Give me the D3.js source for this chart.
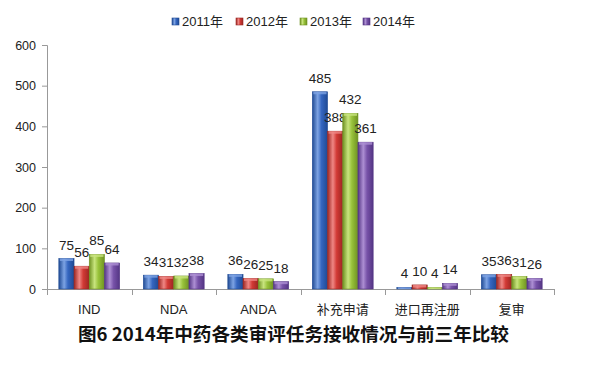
<!DOCTYPE html>
<html><head><meta charset="utf-8">
<script src="https://cdn.jsdelivr.net/npm/d3@7"></script>
<style>body{margin:0;background:#fff}svg{display:block}</style>
</head><body>
<svg id="c" width="603" height="369"></svg>
<script>
const categories = ["IND","NDA","ANDA","补充申请","进口再注册","复审"];
const seriesNames = ["2011年","2012年","2013年","2014年"];
const v2011 = [75,34,36,485,4,35];
const v2012 = [56,31,26,388,10,36];
const v2013 = [85,32,25,432,4,31];
const v2014 = [64,38,18,361,14,26];
const yTicks = [0,100,200,300,400,500,600];
const title = "图6  2014年中药各类审评任务接收情况与前三年比较";

const colors = ["#3566c0","#d23a35","#98c23a","#7752a8"];
const dark = ["#1f4a94","#9c2622","#6f9222","#543584"];
const light = ["#7da3e3","#ef8784","#c8e47e","#ad8fd3"];
const series = [v2011,v2012,v2013,v2014];

const svg = d3.select("#c");
const font = "'Liberation Sans', Arial, 'Noto Sans CJK SC', sans-serif";
const defs = svg.append("defs");
colors.forEach((c,i)=>{
  const g = defs.append("linearGradient").attr("id","g"+i).attr("x1","0").attr("x2","1").attr("y1","0").attr("y2","0");
  g.append("stop").attr("offset","0%").attr("stop-color",dark[i]);
  g.append("stop").attr("offset","35%").attr("stop-color",light[i]);
  g.append("stop").attr("offset","60%").attr("stop-color",c);
  g.append("stop").attr("offset","100%").attr("stop-color",dark[i]);
});

const x0 = d3.scaleBand().domain(categories).range([47,554]).paddingInner(0.28).paddingOuter(0.14);
const x1 = d3.scaleBand().domain(d3.range(4)).range([0,x0.bandwidth()]);
const y = d3.scaleLinear().domain([0,600]).range([289,45]);

// y axis
const ya = svg.append("g").attr("transform","translate(47,0)")
  .call(d3.axisLeft(y).tickValues(yTicks).tickSize(5).tickPadding(6));
ya.select(".domain").attr("stroke","#999");
ya.selectAll(".tick line").attr("stroke","#999");
ya.selectAll("text").attr("font-family",font).attr("font-size",12.5).attr("fill","#222");

// x axis
const xs = d3.scaleLinear().domain([0,6]).range([47,554]);
svg.append("line").attr("x1",47).attr("x2",554).attr("y1",289.5).attr("y2",289.5).attr("stroke","#999");
svg.selectAll(".xt").data(d3.range(7)).enter().append("line")
  .attr("x1",d=>Math.round(xs(d))+0.5).attr("x2",d=>Math.round(xs(d))+0.5)
  .attr("y1",289).attr("y2",295).attr("stroke","#999");
svg.selectAll(".xl").data(categories).enter().append("text")
  .attr("x",d=>x0(d)+x0.bandwidth()/2).attr("y",314)
  .attr("text-anchor","middle").attr("font-family",font).attr("font-size",13).attr("fill","#222")
  .text(d=>d);

// bars
series.forEach((vals,i)=>{
  const g = svg.append("g");
  g.selectAll("rect").data(vals).enter().append("rect")
    .attr("x",(d,j)=>x0(categories[j])+x1(i))
    .attr("y",d=>y(d))
    .attr("width",x1.bandwidth())
    .attr("height",d=>y(0)-y(d))
    .attr("fill","url(#g"+i+")")
    .attr("stroke",dark[i]).attr("stroke-width",0.6);
  g.selectAll("rect.top").data(vals).enter().append("rect")
    .attr("x",(d,j)=>x0(categories[j])+x1(i)+1)
    .attr("y",d=>y(d))
    .attr("width",x1.bandwidth()-2)
    .attr("height",d=>Math.min(2.5,y(0)-y(d)))
    .attr("fill",light[i]).attr("opacity",0.8);
  g.selectAll("text").data(vals).enter().append("text")
    .attr("x",(d,j)=>x0(categories[j])+x1(i)+x1.bandwidth()/2)
    .attr("y",d=>y(d)-9)
    .attr("text-anchor","middle").attr("font-family",font).attr("font-size",13.5).attr("fill","#222")
    .text(d=>d);
});

// legend
const lx = [172,236,300,363];
seriesNames.forEach((n,i)=>{
  svg.append("rect").attr("x",lx[i]).attr("y",18).attr("width",7).attr("height",7)
    .attr("fill","url(#g"+i+")").attr("stroke",dark[i]).attr("stroke-width",0.6);
  svg.append("text").attr("x",lx[i]+10).attr("y",26).attr("font-family",font).attr("font-size",13).attr("fill","#222").text(n);
});

// title
svg.append("text").attr("x",78).attr("y",341)
  .attr("font-family","'Noto Sans CJK SC', sans-serif").attr("font-weight","bold").attr("font-size",18.6).attr("fill","#111")
  .text(title);
</script>
</body></html>
